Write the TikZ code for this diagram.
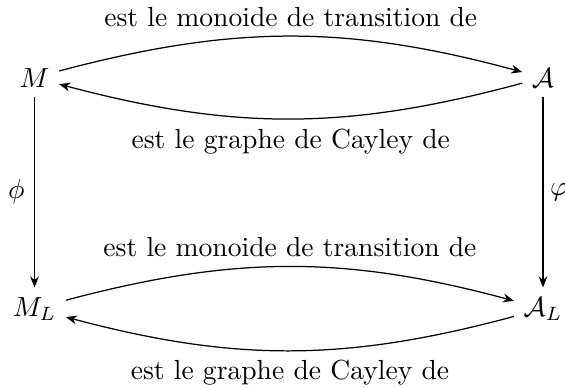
\documentclass[tikz,border=0pt]{standalone}
\usetikzlibrary{arrows.meta}
\begin{document}
\begin{tikzpicture}[x=0.3623pt,y=-0.3623pt,
  obj/.style={anchor=base, inner sep=3.33pt},
  arr/.style={-{Stealth[length=4pt,width=3.2pt]}, line width=0.45pt},
  bendup/.style={arr, bend left=15},
  lab/.style={inner sep=3.33pt}]
\useasboundingbox (0,0) rectangle (565,387);
\node[obj] (M) at (34.5,87) {$M$};
\node[obj] (A) at (543,87) {$\mathcal{A}$};
\node[obj] (ML) at (34.5,316) {$M_L$};
\node[obj] (AL) at (543,316) {$\mathcal{A}_L$};
\draw[bendup] (M) to node[lab, midway, above] {est le monoide de transition de} (A);
\draw[bendup] (A) to node[lab, midway, below] {est le graphe de Cayley de} (M);
\draw[bendup] (ML) to node[lab, midway, above] {est le monoide de transition de} (AL);
\draw[bendup] (AL) to node[lab, midway, below] {est le graphe de Cayley de} (ML);
\draw[arr] (M) to node[lab, midway, left] {$\phi$} (ML);
\draw[arr] (A) to node[lab, midway, right, inner xsep=2.4pt] {$\varphi$} (AL);
\end{tikzpicture}
\end{document}
